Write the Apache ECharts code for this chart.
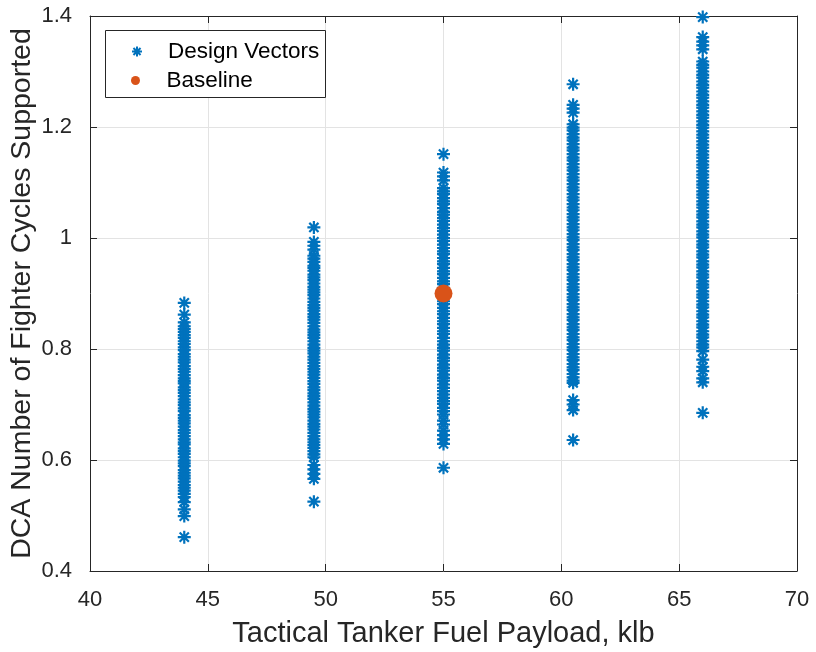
<!DOCTYPE html>
<html>
<head>
<meta charset="utf-8">
<script src="https://cdn.jsdelivr.net/npm/echarts@6/dist/echarts.min.js"></script>
<style>
  html, body { margin: 0; padding: 0; background: #ffffff; }
  #chart { width: 816px; height: 652px; }
</style>
</head>
<body>
<div id="chart"></div>
<script>
// Fuel payload levels (klb) at which design vectors were evaluated
const payloads = [44, 49.5, 55, 60.5, 66];

// DCA fighter cycles supported, one list per payload level
const cycles44 = [0.883, 0.862, 0.848,
  0.841, 0.836, 0.831, 0.825, 0.820, 0.814, 0.809, 0.803, 0.798, 0.791, 0.786, 0.781, 0.776, 0.769,
  0.764, 0.759, 0.753, 0.747, 0.742, 0.738, 0.731, 0.726, 0.721, 0.715, 0.709, 0.704, 0.699, 0.693,
  0.688, 0.681, 0.676, 0.671, 0.666, 0.660, 0.654, 0.649, 0.643, 0.637, 0.632, 0.628, 0.621, 0.616,
  0.611, 0.605, 0.599, 0.594, 0.589, 0.582, 0.577, 0.572, 0.567, 0.561, 0.555, 0.550, 0.545, 0.539,
  0.533, 0.524, 0.511, 0.499, 0.461];
const cycles49 = [1.019, 0.993, 0.986, 0.979,
  0.968, 0.963, 0.957, 0.950, 0.946, 0.941, 0.934, 0.929, 0.924, 0.918, 0.912, 0.907, 0.902, 0.897,
  0.891, 0.885, 0.879, 0.874, 0.869, 0.863, 0.858, 0.853, 0.847, 0.841, 0.835, 0.830, 0.825, 0.820,
  0.814, 0.808, 0.802, 0.797, 0.792, 0.786, 0.781, 0.775, 0.769, 0.764, 0.759, 0.754, 0.748, 0.742,
  0.737, 0.731, 0.726, 0.720, 0.715, 0.710, 0.704, 0.698, 0.692, 0.687, 0.682, 0.677, 0.671, 0.665,
  0.660, 0.655, 0.649, 0.643, 0.637, 0.632, 0.627, 0.622, 0.616, 0.610, 0.605,
  0.591, 0.583, 0.575, 0.566, 0.525];
const cycles55 = [1.151, 1.118, 1.111, 1.104,
  1.090, 1.084, 1.079, 1.072, 1.066, 1.061, 1.054, 1.047, 1.042, 1.036, 1.031, 1.024, 1.018, 1.013,
  1.006, 1.000, 0.995, 0.988, 0.982, 0.976, 0.971, 0.964, 0.958, 0.953, 0.946, 0.940, 0.935, 0.928,
  0.922, 0.917, 0.910, 0.904, 0.899, 0.892, 0.886, 0.881, 0.874, 0.868, 0.863, 0.856, 0.850, 0.845,
  0.838, 0.832, 0.827, 0.820, 0.814, 0.808, 0.802, 0.797, 0.790, 0.784, 0.779, 0.772, 0.766, 0.761,
  0.754, 0.748, 0.743, 0.736, 0.730, 0.724, 0.718, 0.712, 0.706, 0.701, 0.694, 0.688, 0.682,
  0.671, 0.664, 0.653, 0.645, 0.637, 0.629, 0.586];
const cycles60 = [1.277, 1.240, 1.233, 1.226,
  1.205, 1.199, 1.194, 1.187, 1.181, 1.176, 1.169, 1.163, 1.158, 1.151, 1.145, 1.140, 1.133, 1.127,
  1.122, 1.115, 1.109, 1.104, 1.097, 1.091, 1.086, 1.079, 1.073, 1.068, 1.061, 1.055, 1.050, 1.043,
  1.037, 1.032, 1.025, 1.019, 1.014, 1.007, 1.001, 0.996, 0.989, 0.983, 0.978, 0.971, 0.965, 0.960,
  0.953, 0.947, 0.942, 0.935, 0.929, 0.924, 0.917, 0.911, 0.906, 0.899, 0.893, 0.888, 0.881, 0.875,
  0.870, 0.863, 0.857, 0.852, 0.845, 0.839, 0.834, 0.827, 0.821, 0.816, 0.809, 0.803, 0.798, 0.791,
  0.785, 0.780, 0.773, 0.767, 0.762, 0.755, 0.749, 0.743, 0.739,
  0.708, 0.700, 0.690, 0.636];
const cycles66 = [1.398, 1.362, 1.354, 1.347, 1.340,
  1.318, 1.312, 1.307, 1.300, 1.294, 1.289, 1.282, 1.276, 1.271, 1.264, 1.258, 1.253, 1.246, 1.240,
  1.235, 1.228, 1.222, 1.217, 1.210, 1.204, 1.199, 1.192, 1.186, 1.181, 1.174, 1.168, 1.163, 1.156,
  1.150, 1.145, 1.138, 1.132, 1.127, 1.120, 1.114, 1.109, 1.102, 1.096, 1.091, 1.084, 1.078, 1.073,
  1.066, 1.060, 1.055, 1.048, 1.042, 1.037, 1.030, 1.024, 1.019, 1.012, 1.006, 1.001, 0.994, 0.988,
  0.983, 0.976, 0.970, 0.965, 0.958, 0.952, 0.947, 0.940, 0.934, 0.929, 0.922, 0.916, 0.911, 0.904,
  0.898, 0.893, 0.886, 0.880, 0.875, 0.868, 0.862, 0.857, 0.850, 0.844, 0.839, 0.832, 0.826, 0.821,
  0.814, 0.808, 0.803, 0.796,
  0.781, 0.768, 0.760, 0.747, 0.740, 0.685];

// Reference configuration
const baselinePayload = 55;
const baselineCycles = 0.9;

// Axis ticks
const xTicks = [40, 45, 50, 55, 60, 65, 70];
const yTicks = [0.4, 0.6, 0.8, 1, 1.2, 1.4];

const cycleLists = [cycles44, cycles49, cycles55, cycles60, cycles66];
const designPoints = [];
payloads.forEach((p, i) => {
  cycleLists[i].forEach(c => designPoints.push([p, c]));
});

const AXIS = '#262626';
const FONT = 'Liberation Sans, Arial, Helvetica, sans-serif';
// eight-armed asterisk marker
const STAR = 'path://M5,0L5,10M0,5L10,5M1.46,1.46L8.54,8.54M8.54,1.46L1.46,8.54';

const chart = echarts.init(document.getElementById('chart'), null, { renderer: 'canvas' });

const baseAxis = {
  type: 'value',
  axisLine: { show: true, onZero: false, lineStyle: { color: AXIS, width: 1 } },
  axisTick: { show: true, inside: true, length: 7, lineStyle: { color: AXIS, width: 1 } },
  splitLine: { show: false },
};

chart.setOption({
  animation: false,
  backgroundColor: '#ffffff',
  textStyle: { fontFamily: FONT },
  grid: { left: 90, right: 19, top: 16, bottom: 81, containLabel: false, outerBoundsMode: 'none' },
  xAxis: [
    Object.assign({}, baseAxis, {
      position: 'bottom',
      min: xTicks[0], max: xTicks[xTicks.length - 1], interval: 5,
      axisLabel: { color: AXIS, fontSize: 22, fontFamily: FONT, margin: 18 },
      splitLine: { show: true, lineStyle: { color: '#e3e3e3', width: 1 } },
      name: 'Tactical Tanker Fuel Payload, klb',
      nameLocation: 'middle',
      nameGap: 48,
      nameMoveOverlap: false,
      nameTextStyle: { color: AXIS, fontSize: 29, fontFamily: FONT },
    }),
    Object.assign({}, baseAxis, {
      position: 'top',
      min: xTicks[0], max: xTicks[xTicks.length - 1], interval: 5,
      axisLabel: { show: false },
    }),
  ],
  yAxis: [
    Object.assign({}, baseAxis, {
      position: 'left',
      min: yTicks[0], max: yTicks[yTicks.length - 1], interval: 0.2,
      axisLabel: {
        color: AXIS, fontSize: 22, fontFamily: FONT, margin: 18,
        formatter: v => String(+v.toFixed(1)),
      },
      splitLine: { show: true, lineStyle: { color: '#e3e3e3', width: 1 } },
      name: 'DCA Number of Fighter Cycles Supported',
      nameLocation: 'middle',
      nameGap: 53,
      nameMoveOverlap: false,
      nameTextStyle: { color: AXIS, fontSize: 28.5, fontFamily: FONT },
    }),
    Object.assign({}, baseAxis, {
      position: 'right',
      min: yTicks[0], max: yTicks[yTicks.length - 1], interval: 0.2,
      axisLabel: { show: false },
    }),
  ],
  legend: [
    {
      data: ['Design Vectors'],
      left: 126, top: 35,
      itemWidth: 52, itemHeight: 10, itemGap: 0,
      textStyle: { color: '#000000', fontSize: 22.5, fontFamily: FONT },
      z: 6,
    },
    {
      data: ['Baseline'],
      left: 126, top: 64,
      itemWidth: 52, itemHeight: 9, itemGap: 0,
      textStyle: { color: '#000000', fontSize: 22.5, fontFamily: FONT },
      z: 6,
    },
  ],
  graphic: [
    {
      type: 'rect',
      left: 105, top: 30, z: 5,
      shape: { width: 220, height: 67 },
      style: { fill: '#ffffff', stroke: AXIS, lineWidth: 1 },
    },
  ],
  series: [
    {
      name: 'Design Vectors',
      type: 'scatter',
      data: designPoints,
      symbol: STAR,
      symbolSize: 13,
      itemStyle: { color: '#0072BD', borderColor: '#0072BD', borderWidth: 2.2, opacity: 1 },
      emphasis: { disabled: true },
      z: 2,
    },
    {
      name: 'Baseline',
      type: 'scatter',
      data: [[baselinePayload, baselineCycles]],
      symbol: 'circle',
      symbolSize: 18,
      itemStyle: { color: '#D95319', opacity: 1 },
      emphasis: { disabled: true },
      z: 3,
    },
  ],
});
</script>
</body>
</html>
